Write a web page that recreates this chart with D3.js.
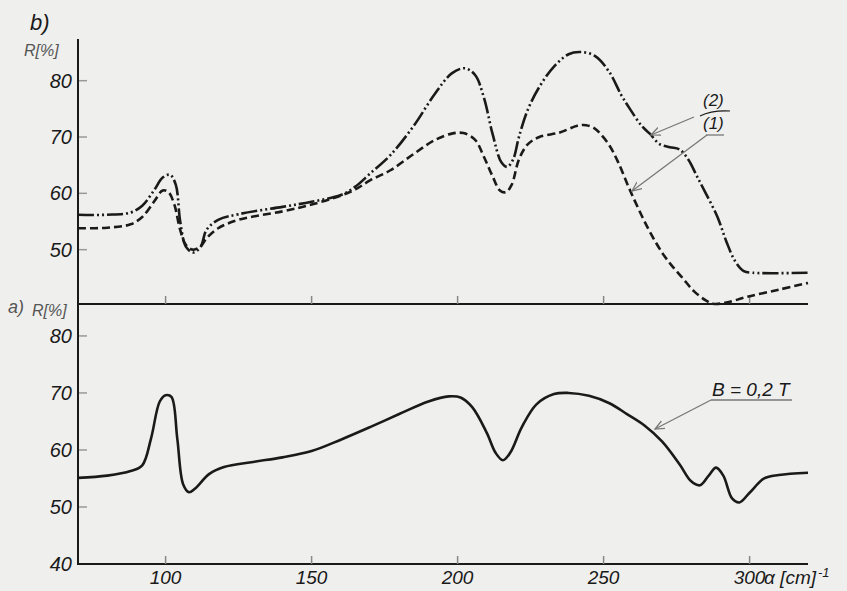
<!DOCTYPE html>
<html>
<head>
<meta charset="utf-8">
<script src="https://cdn.jsdelivr.net/npm/d3@7"></script>
<style>
  body { margin: 0; background: #efefed; }
  text { font-family: "Liberation Sans", Arial, sans-serif; font-style: italic; }
</style>
</head>
<body>
<div id="chart"></div>
<script>
// top panel (b): curve (1) dashed, curve (2) dash-dot-dot
var x1 = [70, 80, 88, 92, 96, 99, 101, 103, 105, 107, 109.5, 112, 114, 118, 125, 140, 150, 160, 165, 170, 177, 185, 192, 198, 202, 206, 209, 212, 214.5, 216.5, 218.5, 221, 224, 228, 235, 241, 244, 247, 249, 252, 255, 259, 265, 270, 273, 277, 281, 285, 287.5, 292, 299, 310, 320];
var r1 = [53.8, 53.9, 54.5, 55.8, 58.5, 60.5, 60.2, 58, 53.5, 50.8, 50.0, 50.6, 52, 53.8, 55.3, 56.8, 58.0, 59.6, 60.7, 62.3, 64.1, 67, 69.4, 70.6, 70.7, 69.5, 66.5, 63, 60.5, 60.2, 61.5, 66, 68.7, 70, 70.8, 72, 72.1, 71.5, 70.5, 68.5, 65.5, 60.6, 54, 49.5, 47.4, 45, 42.6, 41, 40.4, 40.6, 41.6, 42.9, 44.1];

var x2 = [70, 80, 88, 92, 96, 99, 101.5, 103.5, 105, 107, 109.5, 112, 114, 118, 125, 140, 150, 160, 165, 170, 177, 185, 192, 198, 202.5, 206, 209, 212, 215, 217, 219, 221, 224, 228, 233, 238, 242, 247, 252, 256, 259, 263, 266, 269, 272.7, 276, 279, 282, 285, 289, 292, 295, 298, 301, 320];
var r2 = [56.2, 56.2, 56.6, 57.8, 60.5, 62.8, 63.3, 61.5, 55, 50.5, 49.5, 50.5, 53.5, 55.3, 56.3, 57.6, 58.5, 59.7, 61.2, 63.5, 66.8, 72, 77.5, 81.3, 82.2, 81, 77, 70.5, 65.5, 64.7, 66, 70, 74.8, 78.9, 82.5, 84.7, 85.1, 84.4, 81.5, 77.5, 75, 72, 70.5, 68.8, 68.2, 67.8, 66, 63, 60, 55.8, 51.5, 48, 46.2, 45.9, 45.9];

// bottom panel (a): B = 0,2 T
var xa = [70, 80, 88, 92, 95, 98, 100, 102, 104, 106, 108, 110, 115, 120, 130, 140, 150, 160, 170, 180, 190, 197, 201, 205, 210, 213, 215.5, 218, 222, 227, 233, 238, 245, 252, 258, 264, 270, 276, 280, 283, 286, 288.5, 291, 294, 296.5, 300, 305, 310, 320];
var ra = [55.1, 55.5, 56.3, 57.3, 62, 68.5, 69.6, 69.3, 62, 54, 52.6, 53.2, 55.8, 57.0, 57.9, 58.7, 59.8, 61.8, 64.0, 66.3, 68.5, 69.4, 69.2, 67.5, 63, 59.5, 58.2, 59.5, 64, 68, 69.8, 70.0, 69.5, 68.2, 66.3, 64.3, 61.5, 57.5, 54.5, 53.8, 55.5, 56.9, 55.5, 51.5, 50.8, 52.5, 55.0, 55.6, 56.0];

var yTicks = [50, 60, 70, 80];
var yTicksA = [40, 50, 60, 70, 80];
var xTicks = [100, 150, 200, 250, 300];

var svg = d3.select("#chart").append("svg")
            .attr("width", 847)
            .attr("height", 591);

svg.append("rect").attr("width", 847).attr("height", 591).attr("fill", "#efefed");

var x = d3.scaleLinear().domain([70, 320]).range([78, 808]);
var yb = d3.scaleLinear().domain([40, 87.4]).range([306, 39]);
var ya = d3.scaleLinear().domain([40, 85.6]).range([564, 304]);

var ink = "#1a1a1a";

// axes lines
svg.append("line").attr("x1", 78).attr("x2", 78).attr("y1", 39).attr("y2", 565)
   .attr("stroke", ink).attr("stroke-width", 2);
svg.append("line").attr("x1", 77).attr("x2", 808).attr("y1", 304).attr("y2", 304)
   .attr("stroke", ink).attr("stroke-width", 2);
svg.append("line").attr("x1", 77).attr("x2", 808).attr("y1", 564).attr("y2", 564)
   .attr("stroke", ink).attr("stroke-width", 2);

// y ticks and labels
svg.selectAll(".tb").data(yTicks).enter().append("line")
   .attr("x1", 79).attr("x2", 87)
   .attr("y1", function(d) { return yb(d); }).attr("y2", function(d) { return yb(d); })
   .attr("stroke", "#999").attr("stroke-width", 1.5);
svg.selectAll(".lb").data(yTicks).enter().append("text")
   .attr("x", 72).attr("y", function(d) { return yb(d) + 7; })
   .attr("text-anchor", "end").attr("font-size", 20).attr("fill", ink)
   .text(function(d) { return d; });

svg.selectAll(".ta").data(yTicksA.slice(1)).enter().append("line")
   .attr("x1", 79).attr("x2", 87)
   .attr("y1", function(d) { return ya(d); }).attr("y2", function(d) { return ya(d); })
   .attr("stroke", "#999").attr("stroke-width", 1.5);
svg.selectAll(".la").data(yTicksA).enter().append("text")
   .attr("x", 72).attr("y", function(d) { return ya(d) + 7; })
   .attr("text-anchor", "end").attr("font-size", 20).attr("fill", ink)
   .text(function(d) { return d; });

// x ticks on both horizontal lines
[304, 564].forEach(function(base) {
    svg.selectAll(".xt" + base).data(xTicks).enter().append("line")
       .attr("x1", function(d) { return x(d); }).attr("x2", function(d) { return x(d); })
       .attr("y1", base - 8).attr("y2", base)
       .attr("stroke", "#888").attr("stroke-width", 1.5);
});
svg.selectAll(".xl").data(xTicks).enter().append("text")
   .attr("x", function(d) { return x(d); }).attr("y", 584)
   .attr("text-anchor", "middle").attr("font-size", 19).attr("fill", ink)
   .text(function(d) { return d; });

// x unit label
var unit = svg.append("text").attr("x", 764).attr("y", 584).attr("font-size", 19).attr("fill", ink);
unit.append("tspan").text("α [cm]");
unit.append("tspan").attr("dy", -7).attr("dx", 2).attr("font-size", 13).text("-1");

// panel labels
svg.append("text").attr("x", 30).attr("y", 30).attr("font-size", 22).attr("fill", ink).text("b)");
svg.append("text").attr("x", 24).attr("y", 56).attr("font-size", 16).attr("fill", "#555").text("R[%]");
svg.append("text").attr("x", 8).attr("y", 313).attr("font-size", 18).attr("fill", "#555").text("a)");
svg.append("text").attr("x", 32).attr("y", 316).attr("font-size", 16).attr("fill", "#555").text("R[%]");

// curves
var lineB = d3.line().x(function(d) { return x(d[0]); }).y(function(d) { return yb(d[1]); })
              .curve(d3.curveCatmullRom.alpha(0.5));
var lineA = d3.line().x(function(d) { return x(d[0]); }).y(function(d) { return ya(d[1]); })
              .curve(d3.curveCatmullRom.alpha(0.5));

svg.append("path").datum(d3.zip(x1, r1)).attr("d", lineB)
   .attr("fill", "none").attr("stroke", ink).attr("stroke-width", 2.6)
   .attr("stroke-dasharray", "8,4");
svg.append("path").datum(d3.zip(x2, r2)).attr("d", lineB)
   .attr("fill", "none").attr("stroke", ink).attr("stroke-width", 2.6)
   .attr("stroke-dasharray", "16,3,2,3,2,3");
svg.append("path").datum(d3.zip(xa, ra)).attr("d", lineA)
   .attr("fill", "none").attr("stroke", ink).attr("stroke-width", 2.6);

// annotations
var grey = "#777";
svg.append("defs").append("marker")
   .attr("id", "arr").attr("viewBox", "0 0 10 10").attr("refX", 9).attr("refY", 5)
   .attr("markerWidth", 8).attr("markerHeight", 8).attr("orient", "auto")
   .append("path").attr("d", "M0,1 L9,5 L0,9").attr("fill", "none").attr("stroke", grey).attr("stroke-width", 1.2);

function leader(xa0, ya0, xb0, yb0) {
    svg.append("line").attr("x1", xa0).attr("y1", ya0).attr("x2", xb0).attr("y2", yb0)
       .attr("stroke", grey).attr("stroke-width", 1.3).attr("marker-end", "url(#arr)");
}

svg.append("text").attr("x", 703).attr("y", 106).attr("font-size", 17).attr("fill", ink).text("(2)");
svg.append("path").attr("d", "M700,116 Q712,110 730,111").attr("fill", "none").attr("stroke", ink).attr("stroke-width", 1.2);
svg.append("text").attr("x", 703).attr("y", 129).attr("font-size", 17).attr("fill", ink).text("(1)");
svg.append("line").attr("x1", 706).attr("x2", 724).attr("y1", 135).attr("y2", 135).attr("stroke", grey).attr("stroke-width", 1.3);
leader(694, 117, 651, 135);
leader(707, 135, 632, 191);

svg.append("text").attr("x", 712).attr("y", 396).attr("font-size", 19).attr("fill", ink).text("B = 0,2 T");
svg.append("line").attr("x1", 711).attr("x2", 792).attr("y1", 400).attr("y2", 400).attr("stroke", grey).attr("stroke-width", 1.3);
leader(711, 400, 655, 429);
</script>
</body>
</html>
